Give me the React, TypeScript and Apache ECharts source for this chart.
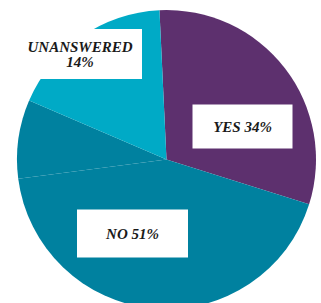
import React, { useEffect, useRef } from "react";
import * as echarts from "echarts";

// Slice shares measured from the drawn angles (NO is drawn as two adjoining pieces)
const sliceNames = ["YES", "NO", "NO (part)", "UNANSWERED"];
const sliceValues = [30.6, 43.1, 8.5, 17.8];
const sliceColors = ["#5d306e", "#00819f", "#00819f", "#00aac6"];
// Percentages printed in the labels
const labelTexts = ["YES 34%", "NO 51%", "", "UNANSWERED\n14%"];
const labelShow = [true, true, false, true];
const labelBoxWidth = [100, 111, 0, 124];
const labelBoxPad = [14, 16, 0, 10];
const labelCenters: number[][] = [
  [242.5, 126.5],
  [132.5, 233.5],
  [0, 0],
  [80, 54],
];

export default function App() {
  const ref = useRef<HTMLDivElement>(null);
  useEffect(() => {
    if (!ref.current) return;
    const chart = echarts.init(ref.current, undefined, { renderer: "svg" });
    chart.setOption({
      animation: false,
      backgroundColor: "#ffffff",
      series: [
        {
          type: "pie",
          center: [166.5, 159.5],
          radius: [0, 149.5],
          startAngle: 92.7,
          clockwise: true,
          avoidLabelOverlap: false,
          silent: true,
          labelLine: { show: false },
          itemStyle: { borderWidth: 0 },
          data: sliceNames.map((n, i) => ({
            name: n,
            value: sliceValues[i],
            itemStyle: { color: sliceColors[i], borderWidth: 0 },
            label: {
              show: labelShow[i],
              position: "inside",
              formatter: labelTexts[i],
              backgroundColor: "#ffffff",
              color: "#1a1a1a",
              fontFamily: "'Liberation Serif', 'DejaVu Serif', serif",
              fontStyle: "italic",
              fontWeight: "bold",
              fontSize: 15,
              lineHeight: i === 3 ? 15 : 16,
              width: labelBoxWidth[i],
              padding: [labelBoxPad[i], 0],
              align: "center",
              verticalAlign: "middle",
            },
          })),
          labelLayout: (params: any) => {
            const c = labelCenters[params.dataIndex];
            return { x: c[0], y: c[1], align: "center", verticalAlign: "middle", hideOverlap: false };
          },
        },
      ],
    });
    return () => chart.dispose();
  }, []);
  return (
    <div
      ref={ref}
      style={{ position: "fixed", left: 0, top: 0, width: 321, height: 303 }}
    />
  );
}
